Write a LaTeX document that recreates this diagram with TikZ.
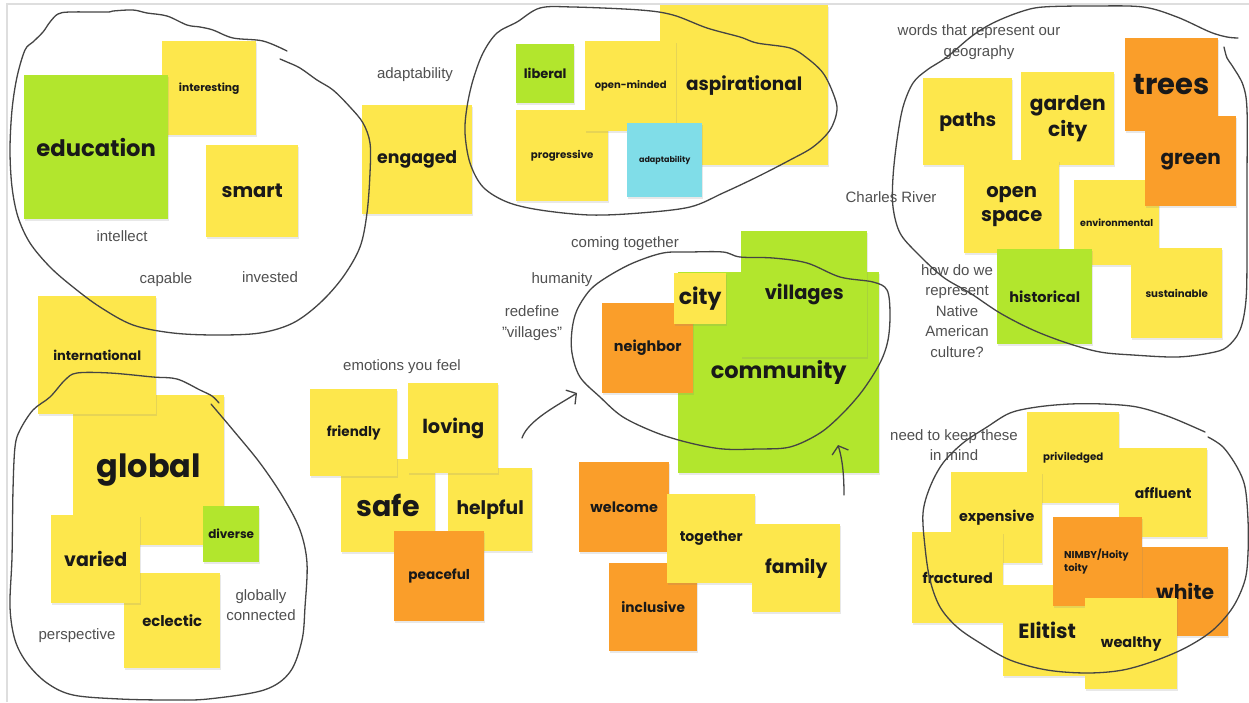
\documentclass[tikz,border=0pt]{standalone}
\usepackage{fontspec}
\setmainfont{Liberation Sans}
\newfontfamily\notefont{Poppins}
\usepackage{xcolor}
\usetikzlibrary{shadows,arrows.meta}

\definecolor{noteyellow}{RGB}{253,231,76}
\definecolor{notegreen}{RGB}{178,230,45}
\definecolor{noteorange}{RGB}{250,158,42}
\definecolor{noteblue}{RGB}{128,221,232}
\definecolor{ink}{RGB}{68,68,68}
\definecolor{labelgray}{RGB}{80,80,80}
\definecolor{framegray}{RGB}{222,222,222}

\begin{document}
\begin{tikzpicture}[
    x=1pt, y=-1pt,
    note/.style={rectangle, anchor=north west, inner sep=0pt, text=black!90,
      drop shadow={shadow xshift=0.6pt, shadow yshift=-1.6pt, opacity=0.18}},
    yellownote/.style={note, fill=noteyellow},
    greennote/.style={note, fill=notegreen},
    orangenote/.style={note, fill=noteorange},
    bluenote/.style={note, fill=noteblue},
    sq/.style={minimum width=#1pt, minimum height=#1pt},
    wh/.style 2 args={minimum width=#1pt, minimum height=#2pt},
    txt/.style={font=\notefont\bfseries\fontsize{#1}{#1}\selectfont},
    lbl/.style={font=\fontsize{15}{20.5}\selectfont, text=labelgray, align=center, inner sep=0pt},
    scribble/.style={draw=ink, line width=1.3pt, line cap=round, line join=round},
    barb/.style={scribble, -{Straight Barb[length=7pt, width=17pt]}},
]
    \fill[white] (0,0) rectangle (1249,702);
    \useasboundingbox (0,0) rectangle (1249,702);
    % board frame
    \draw[framegray, line width=1.5pt] (7,702) -- (7,4) -- (1249,4);

    % education cluster
    \node[yellownote, sq=94, txt=10.7] (interesting) at (162,41) {interesting};
    \node[greennote, sq=144, txt=22.7] (education) at (24,75) {education};
    \node[yellownote, sq=92, txt=19.5] (smart) at (206,145) {smart};
    \node[yellownote, wh={110}{109}, txt=17.3] (engaged) at (362,105) {engaged};

    % aspiration cluster
    \node[greennote, wh={58}{59}, txt=13] (liberal) at (516,44) {liberal};
    \node[yellownote, wh={168}{160}, txt=18.4] (aspirational) at (660,5) {aspirational};
    \node[yellownote, wh={92}{91}, txt=10.2] (progressive) at (516,110) {progressive};
    \node[yellownote, wh={91}{90}, txt=10] (openminded) at (585,41) {open-minded};
    \node[bluenote, wh={75}{74}, txt=8] (adaptnote) at (627,123) {adaptability};

    % geography cluster
    \node[yellownote, wh={89}{87}, txt=19] (paths) at (923,78) {paths};
    \node[yellownote, sq=93, txt=20.2, align=center] (gardencity) at (1021,72) {garden\\[4pt]city};
    \node[orangenote, sq=93, txt=29] (trees) at (1125,38) {trees};
    \node[yellownote, sq=85, txt=9.5] (environmental) at (1074,180) {environmental};
    \node[orangenote, wh={91}{90}, txt=20] (greenword) at (1145,116) {green};
    \node[yellownote, wh={95}{93}, txt=19.5, align=center] (openspace) at (964,160) {open\\[4pt]space};
    \node[greennote, sq=95, txt=14.5] (historical) at (997,249) {historical};
    \node[yellownote, wh={91}{90}, txt=10.2] (sustainable) at (1131,248) {sustainable};

    % global cluster
    \node[yellownote, wh={151}{150}, txt=32] (global) at (73,395) {global};
    \node[yellownote, sq=118, txt=13] (international) at (38,296) {international};
    \node[yellownote, wh={96}{95}, txt=14.8] (eclectic) at (124,573) {eclectic};
    \node[yellownote, wh={89}{88}, txt=19] (varied) at (51,515) {varied};
    \node[greennote, sq=56, txt=12] (diverse) at (203,506) {diverse};

    % emotions cluster
    \node[yellownote, wh={94}{93}, txt=28.5] (safe) at (341,459) {safe};
    \node[yellownote, wh={84}{83}, txt=18.7] (helpful) at (448,468) {helpful};
    \node[yellownote, sq=87, txt=13.5] (friendly) at (310,389) {friendly};
    \node[yellownote, sq=90, txt=19.3] (loving) at (408,383) {loving};
    \node[orangenote, sq=90, txt=13.6] (peaceful) at (394,531) {peaceful};

    % community cluster
    \node[greennote, sq=201, txt=22.5] (community) at (678,272) {community};
    \node[greennote, sq=126, txt=19.5] (villages) at (741,231) {villages};
    \node[orangenote, wh={91}{90}, txt=14.4] (neighbor) at (602,303) {neighbor};
    \node[yellownote, wh={52}{51}, txt=22] (city) at (674,273) {city};

    % belonging cluster
    \node[orangenote, sq=90, txt=14.4] (welcome) at (579,462) {welcome};
    \node[orangenote, sq=88, txt=13.7] (inclusive) at (609,563) {inclusive};
    \node[yellownote, wh={88}{89}, txt=14.1] (together) at (667,494) {together};
    \node[yellownote, sq=88, txt=18.8] (family) at (752,524) {family};

    % privilege cluster
    \node[yellownote, wh={92}{91}, txt=10.2] (priviledged) at (1027,412) {priviledged};
    \node[yellownote, wh={88}{89}, txt=14] (affluent) at (1119,448) {affluent};
    \node[yellownote, sq=91, txt=14.3] (expensive) at (951,472) {expensive};
    \node[yellownote, sq=91, txt=14.4] (fractured) at (912,532) {fractured};
    \node[yellownote, wh={88}{91}, txt=20.6] (elitist) at (1003,585) {Elitist};
    \node[orangenote, wh={86}{89}, txt=20.3] (white) at (1142,547) {white};
    \node[orangenote, sq=89, txt=10, text width=67pt, align=left] (nimby) at (1053,517) {NIMBY/Hoity\\[2pt]toity};
    \node[yellownote, wh={92}{91}, txt=14.5] (wealthy) at (1085,598) {wealthy};

    % free labels
    \node[lbl] (ladapt) at (415,75) {adaptability};
    \node[lbl] (lintellect) at (122,236) {intellect};
    \node[lbl] (lcapable) at (166,280) {capable};
    \node[lbl] (linvested) at (270,277) {invested};
    \node[lbl] (lcoming) at (625,244) {coming together};
    \node[lbl] (lhumanity) at (562,280) {humanity};
    \node[lbl] (lredefine) at (532,323) {redefine\\"villages"};
    \node[lbl] (lemotions) at (402,367) {emotions you feel};
    \node[lbl] (lwords) at (979,42) {words that represent our\\geography};
    \node[lbl] (lcharles) at (891,197) {Charles River};
    \node[lbl] (lnative) at (957,311) {how do we\\represent\\Native\\American\\culture?};
    \node[lbl] (lkeep) at (954,445) {need to keep these\\in mind};
    \node[lbl] (lglobally) at (261,605) {globally\\connected};
    \node[lbl] (lperspective) at (77,636) {perspective};

    % hand drawn loops
    \draw[scribble] plot[smooth, tension=0.55] coordinates {
      (287,51) (263,41) (233,38) (213,30) (200,27) (187,25) (167,16) (147,13)
      (133,10) (113,11) (107,12) (70,12) (58,14) (50,22) (43,32) (33,42) (25,50)
      (17,77) (12,110) (10,150) (12,187) (18,217) (30,243) (50,267) (73,287)
      (100,307) (133,325) (173,333) (217,335) (260,333) (293,323) (320,303)
      (343,277) (360,247) (367,213) (370,173) (370,143) (363,123) (350,107)
      (333,90) (317,80) (300,68) (287,62) (280,59)};
    \draw[scribble] plot[smooth cycle, tension=0.55] coordinates {
      (540,8) (573,7) (640,10) (673,15) (707,28) (740,37) (757,43) (790,48)
      (807,58) (823,73) (833,93) (837,110) (830,130) (813,147) (790,160)
      (757,177) (723,193) (690,207) (640,213) (590,215) (540,210) (507,202)
      (483,187) (470,163) (465,133) (467,107) (473,80) (483,53) (497,33)
      (517,22)};
    \draw[scribble] plot[smooth, tension=0.55] coordinates {
      (1238,38) (1227,37) (1210,32) (1177,17) (1143,7) (1093,6) (1043,7)
      (1020,12) (993,23) (972,36) (947,57) (927,70) (913,83) (903,107)
      (897,140) (893,177) (893,207) (900,233) (917,253) (943,277) (970,293)
      (1000,313) (1033,330) (1067,343) (1100,352) (1133,355) (1177,357)
      (1210,353) (1227,347) (1240,330) (1246,300) (1247,250) (1247,180)
      (1247,110) (1243,85) (1233,67) (1227,58) (1224,47)};
    \draw[scribble] plot[smooth, tension=0.55] coordinates {
      (219,403) (212,396) (200,390) (177,379) (153,377) (110,373) (77,373)
      (65,380) (50,397) (33,410) (20,430) (15,447) (13,490) (12,557) (10,607)
      (15,640) (27,663) (47,683) (73,695) (120,699) (170,700) (208,699)
      (264,690) (290,672) (302,640) (305,607) (307,563) (300,530) (283,497)
      (260,463) (233,430) (211,404)};
    \draw[scribble] plot[smooth cycle, tension=0.55] coordinates {
      (633,263) (663,253) (690,252) (723,252) (740,257) (773,258) (807,263)
      (840,277) (873,282) (887,290) (890,313) (888,340) (880,363) (863,390)
      (843,413) (820,433) (790,447) (757,449) (723,449) (690,443) (657,433)
      (623,417) (600,397) (580,377) (572,353) (572,330) (577,310) (590,290)
      (607,277)};
    \draw[scribble] plot[smooth, tension=0.55] coordinates {
      (1205,432) (1170,417) (1137,407) (1103,404) (1070,404) (1037,407)
      (1010,413) (987,427) (963,443) (943,463) (930,487) (923,513) (925,547)
      (930,580) (940,607) (957,627) (980,643) (1010,660) (1047,670) (1087,673)
      (1123,670) (1157,660) (1187,647) (1213,630) (1233,607) (1245,580)
      (1248,553) (1248,520) (1245,487) (1237,467) (1223,447) (1208,437)};

    % arrows
    \draw[barb] (522,438) .. controls (528,420) and (560,404) .. (577,393);
    \draw[barb] (844,495) .. controls (844,472) and (842,458) .. (838,445);
\end{tikzpicture}
\end{document}
